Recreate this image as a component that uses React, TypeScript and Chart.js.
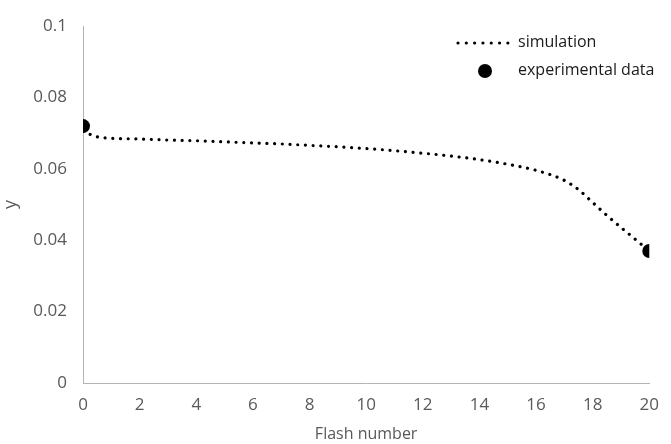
import React, { useEffect, useRef } from "react";
import { Chart, registerables } from "chart.js";

Chart.register(...registerables);

const simX = [0, 0.5, 1, 2, 3, 4, 5, 6, 7, 8, 9, 10, 11, 12, 13, 14, 15, 16, 17, 17.5, 18, 18.5, 19, 19.5, 20];
const simY = [0.0705, 0.069, 0.0686, 0.0684, 0.0681, 0.0679, 0.0676, 0.0673, 0.067, 0.0666, 0.0662, 0.0657, 0.0651, 0.0644, 0.0636, 0.0626, 0.0613, 0.0596, 0.0568, 0.0542, 0.0506, 0.047, 0.0436, 0.0403, 0.037];
const expX = [0, 20];
const expY = [0.072, 0.037];
const seriesNames = ["simulation", "experimental data"];
const xTitle = "Flash number";
const yTitle = "y";

const FONT = "'Open Sans', sans-serif";
const TEXT = "#595959";

const legendPlugin = {
  id: "customLegend",
  afterDraw(chart: any) {
    const ctx = chart.ctx;
    ctx.save();
    ctx.font = `16px ${FONT}`;
    ctx.fillStyle = "#1a1a1a";
    ctx.textBaseline = "middle";
    ctx.textAlign = "left";
    ctx.strokeStyle = "#000";
    ctx.lineWidth = 3.2;
    ctx.lineCap = "round";
    ctx.setLineDash([0.01, 8.3]);
    ctx.beginPath();
    ctx.moveTo(458, 43);
    ctx.lineTo(508, 43);
    ctx.stroke();
    ctx.setLineDash([]);
    ctx.fillText(seriesNames[0], 518, 42);
    ctx.fillStyle = "#000";
    ctx.beginPath();
    ctx.arc(485, 71, 7, 0, Math.PI * 2);
    ctx.fill();
    ctx.fillStyle = "#1a1a1a";
    ctx.fillText(seriesNames[1], 518, 70);
    ctx.restore();
  },
};

export default function App() {
  const ref = useRef<HTMLCanvasElement>(null);
  useEffect(() => {
    document.body.style.margin = "0";
    const chart = new Chart(ref.current!, {
      type: "scatter",
      data: {
        datasets: [
          {
            label: seriesNames[0],
            data: simX.map((x, i) => ({ x, y: simY[i] })),
            showLine: true,
            borderColor: "#000",
            borderWidth: 3.2,
            borderCapStyle: "round",
            borderDash: [0.01, 7.7],
            pointRadius: 0,
            cubicInterpolationMode: "monotone",
          } as any,
          {
            label: seriesNames[1],
            data: expX.map((x, i) => ({ x, y: expY[i] })),
            showLine: false,
            pointRadius: 7,
            pointBackgroundColor: "#000",
            pointBorderColor: "#000",
            pointBorderWidth: 0,
          },
        ],
      },
      options: {
        animation: false,
        responsive: false,
        maintainAspectRatio: false,
        layout: { padding: { top: 21, right: 18, left: 0, bottom: 0 } },
        plugins: { legend: { display: false }, tooltip: { enabled: false } },
        scales: {
          x: {
            type: "linear",
            min: 0,
            max: 20,
            ticks: { stepSize: 2, color: TEXT, font: { family: FONT, size: 17 }, padding: 12 },
            grid: { display: false, drawTicks: false },
            border: { color: "#b3b3b3", width: 1 },
            title: { display: true, text: xTitle, color: TEXT, font: { family: FONT, size: 16 }, padding: { top: 2, bottom: 0 } },
            afterFit(scale: any) {
              scale.height = 61;
            },
          },
          y: {
            type: "linear",
            min: 0,
            max: 0.1,
            ticks: {
              stepSize: 0.02,
              color: TEXT,
              font: { family: FONT, size: 17 },
              padding: 16,
              callback: (v: any) => String(Number(Number(v).toFixed(2))),
            },
            grid: { display: false, drawTicks: false },
            border: { color: "#b3b3b3", width: 1 },
            title: { display: true, text: yTitle, color: TEXT, font: { family: FONT, size: 18 }, padding: { top: 0, bottom: 8 } },
            afterFit(scale: any) {
              scale.width = 83;
            },
          },
        },
      },
      plugins: [legendPlugin],
    });
    return () => chart.destroy();
  }, []);
  return (
    <div style={{ position: "absolute", left: 0, top: 0, width: 671, height: 444 }}>
      <canvas ref={ref} width={671} height={444} style={{ width: 671, height: 444 }} />
    </div>
  );
}
